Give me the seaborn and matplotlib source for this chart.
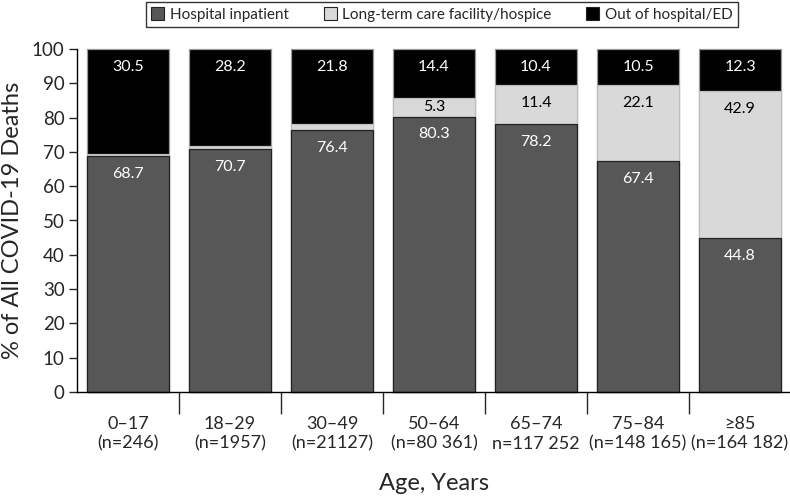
import matplotlib
matplotlib.use("Agg")
import matplotlib.pyplot as plt
import matplotlib.patches as mpatches
from matplotlib.ticker import FixedLocator
import numpy as np
import pandas as pd
import seaborn as sns

# ---- data ----
age_groups = ["0–17", "18–29", "30–49", "50–64", "65–74", "75–84", "≥85"]
n_labels = ["(n=246)", "(n=1957)", "(n=21127)", "(n=80 361)", "n=117 252", "(n=148 165)", "(n=164 182)"]
hospital = [68.7, 70.7, 76.4, 80.3, 78.2, 67.4, 44.8]
ltc = [0.8, 1.1, 1.8, 5.3, 11.4, 22.1, 42.9]
out_hosp = [30.5, 28.2, 21.8, 14.4, 10.4, 10.5, 12.3]
series_names = ["Hospital inpatient", "Long-term care facility/hospice", "Out of hospital/ED"]
ltc_labels_shown = [False, False, False, True, True, True, True]

colors = ["#575757", "#d9d9d9", "#000000"]

sns.set_style("white")
plt.rcParams["font.family"] = ["Lato", "DejaVu Sans"]

df = pd.DataFrame({"age": age_groups, "hospital": hospital, "ltc": ltc, "out": out_hosp})
df["c1"] = df["hospital"]
df["c2"] = df["hospital"] + df["ltc"]
df["c3"] = df["c2"] + df["out"]

fig = plt.figure(figsize=(7.9, 4.98), dpi=100)
ax = fig.add_axes([77 / 790, 1 - 392 / 498, 714 / 790, (392 - 49) / 498])

edge_cols = ["#9a9a9a", "#bdbdbd", "#222222"]
for col, c, ec in zip(["c3", "c2", "c1"], [colors[2], colors[1], colors[0]], edge_cols):
    sns.barplot(data=df, x="age", y=col, color=c, width=0.8, edgecolor=ec,
                linewidth=0.9, saturation=1, ax=ax, errorbar=None)
for p in ax.patches:
    p.set_clip_on(False)

off = 5.2
for i in range(len(age_groups)):
    top = df["c3"][i]
    ax.text(i, top - min(off, out_hosp[i] / 2), f"{out_hosp[i]:.1f}", ha="center", va="center",
            color="white", fontsize=11.5)
    if ltc_labels_shown[i]:
        top = df["c2"][i]
        ax.text(i, top - min(off, ltc[i] / 2), f"{ltc[i]:.1f}", ha="center", va="center",
                color="black", fontsize=11.5)
    top = df["c1"][i]
    ax.text(i, top - min(off, hospital[i] / 2), f"{hospital[i]:.1f}", ha="center", va="center",
            color="white", fontsize=11.5)

ax.set_xlim(-0.5, 6.5)
ax.set_ylim(0, 100)
ax.set_yticks(range(0, 101, 10))
ax.tick_params(axis="y", labelsize=13.5, length=6, width=1, direction="out", left=True, pad=3)
ax.set_xticks(range(len(age_groups)))
ax.set_xticklabels([f"{a}\n{n}" for a, n in zip(age_groups, n_labels)], fontsize=13, linespacing=1.3)
ax.tick_params(axis="x", which="major", length=0, pad=17)
ax.xaxis.set_minor_locator(FixedLocator(np.arange(0.5, 6.0, 1.0)))
ax.tick_params(axis="x", which="minor", length=16, width=1, direction="out", bottom=True)

for s in ["top", "right"]:
    ax.spines[s].set_visible(False)
for s in ["left", "bottom"]:
    ax.spines[s].set_color("black")
    ax.spines[s].set_linewidth(1)

ax.set_xlabel("Age, Years", fontsize=17, labelpad=15)
ax.set_ylabel("% of All COVID-19 Deaths", fontsize=17, labelpad=6)

handles = [mpatches.Patch(facecolor=c, edgecolor="#222222", linewidth=0.8) for c in colors]
leg = fig.legend(handles, series_names, loc="upper center", bbox_to_anchor=(442 / 790, 1 - 2 / 498),
                 ncol=3, frameon=True, fancybox=False, fontsize=11, handlelength=0.85,
                 handleheight=0.85, handletextpad=0.35, columnspacing=2.3, borderpad=0.35,
                 borderaxespad=0, edgecolor="black")
leg.get_frame().set_linewidth(1)

fig.savefig("out.png", dpi=100)
